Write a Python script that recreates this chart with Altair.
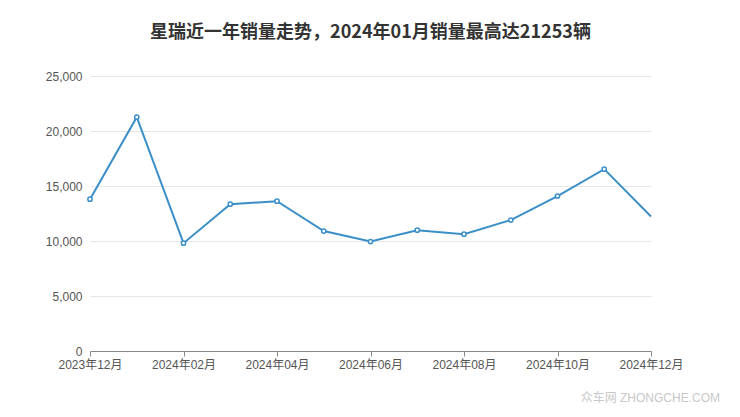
import altair as alt
import pandas as pd

# Data
month_labels = ["2023年12月", "2024年01月", "2024年02月", "2024年03月", "2024年04月",
                "2024年05月", "2024年06月", "2024年07月", "2024年08月", "2024年09月",
                "2024年10月", "2024年11月", "2024年12月"]
sales = [13800, 21253, 9800, 13350, 13620, 10900, 9950, 10980, 10620, 11900,
         14080, 16530, 12230]
show_marker = [True] * 12 + [False]

df = pd.DataFrame({
    "idx": list(range(len(month_labels))),
    "month": month_labels,
    "sales": sales,
    "marker": show_marker,
})

label_array = "[" + ",".join(f"'{m}'" for m in month_labels) + "]"
FONT = "Liberation Sans, Noto Sans CJK SC"
BLUE = "#3a8fc7"

x_enc = alt.X("idx:Q",
              scale=alt.Scale(domain=[0, 12], nice=False, zero=False),
              axis=alt.Axis(values=[0, 2, 4, 6, 8, 10, 12],
                            labelExpr=label_array + "[datum.value]",
                            labelFlush=False, labelOverlap=False,
                            title=None, grid=False, domainColor="#888",
                            tickColor="#888", tickSize=5, labelPadding=3,
                            labelColor="#555", labelFontSize=12, labelFont=FONT))
y_enc = alt.Y("sales:Q",
              scale=alt.Scale(domain=[0, 25000], nice=False),
              axis=alt.Axis(values=[0, 5000, 10000, 15000, 20000, 25000],
                            format=",d", title=None, domain=False, ticks=False,
                            gridColor="#e6e6e6", labelPadding=8,
                            labelColor="#555", labelFontSize=12, labelFont=FONT,
                            minExtent=82, maxExtent=82))

line = alt.Chart(df).mark_line(color=BLUE, strokeWidth=2).encode(x=x_enc, y=y_enc)
points = alt.Chart(df).transform_filter("datum.marker").mark_point(
    shape="circle", filled=True, fill="white", stroke=BLUE, strokeWidth=1.5, size=18, opacity=1
).encode(x="idx:Q", y="sales:Q")

watermark = alt.Chart(pd.DataFrame({"t": ["众车网  ZHONGCHE.COM"]})).mark_text(
    align="right", baseline="middle", fontSize=12, color="#c8c8c8", font=FONT
).encode(text="t:N", x=alt.value(720 - 90), y=alt.value(398 - 76))

chart = alt.layer(line, points, watermark).properties(
    width=561, height=275,
    padding={"left": 0, "top": 16, "right": 5, "bottom": 5},
    title=alt.TitleParams("星瑞近一年销量走势，2024年01月销量最高达21253辆",
                          anchor="middle", fontSize=18, fontWeight="bold",
                          color="#333", font="Noto Sans CJK SC", offset=28),
).configure_view(stroke=None)

chart.save("out.html", embed_options={"renderer": "svg", "actions": False})
